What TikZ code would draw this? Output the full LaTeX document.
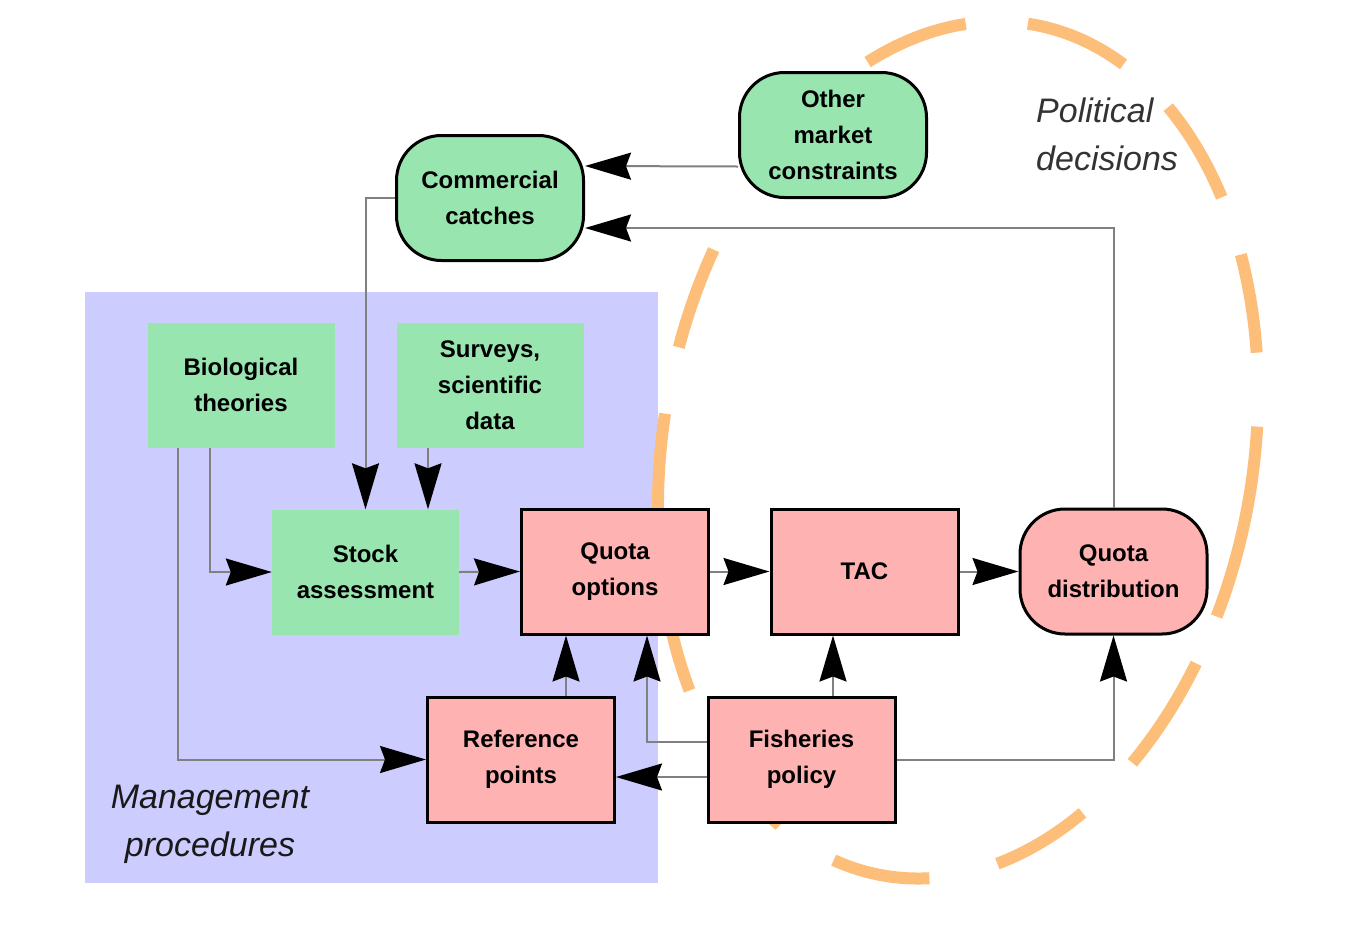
\documentclass[tikz,border=0pt]{standalone}
\usepackage{fontspec}
\setmainfont{Liberation Sans}
\usetikzlibrary{arrows.meta}
\definecolor{boxgreen}{RGB}{153,229,176}
\definecolor{boxpink}{RGB}{255,178,178}
\definecolor{mgmtpurple}{RGB}{204,204,255}
\definecolor{polorange}{RGB}{253,190,122}
\definecolor{linegray}{RGB}{128,128,128}
\definecolor{labelgray}{RGB}{51,51,51}
\begin{document}
\begin{tikzpicture}[x=1pt,y=-1pt,
  conn/.style={draw=linegray, line width=2pt, -{Stealth[length=46pt,width=27pt,inset=5pt,black]}},
  base/.style={minimum width=187pt, minimum height=125pt, inner sep=0pt, align=center,
    font=\fontsize{24pt}{36pt}\selectfont\bfseries, text=black},
  greenbox/.style={base, fill=boxgreen},
  greenround/.style={greenbox, draw=black, line width=3pt, rounded corners=45pt},
  pinkbox/.style={base, fill=boxpink, draw=black, line width=3pt},
  pinkround/.style={pinkbox, rounded corners=45pt},
  arealabel/.style={font=\fontsize{34pt}{48pt}\selectfont\itshape, inner sep=0pt},
  poldash/.style={draw=polorange, line width=12pt},
]
\useasboundingbox (0,0) rectangle (1362,938);
\fill[white] (0,0) rectangle (1362,938);

% Management procedures area
\fill[mgmtpurple] (85,292) rectangle (658,883);

% Political decisions dashed ellipse (individual dashes)
\begin{scope}[shift={(958,450)}, rotate=-10]
  \foreach \s/\e in {-10/16, 23/40, 51/68, 81/100, 112/129, 139/157, 164/178,
                     187/201, 212/229, 238/257, 269/289, 300/317, 326/340}
    \draw[poldash] (\s:295 and 432) arc[start angle=\s, end angle=\e, x radius=295, y radius=432];
\end{scope}

% nodes
\node[greenround] (cc) at (490,198) {Commercial\\catches};
\node[greenround] (om) at (833,135) {Other\\market\\constraints};
\node[greenbox] (bio) at (241,385) {Biological\\theories};
\node[greenbox] (surv) at (490,385) {Surveys,\\scientific\\data};
\node[greenbox] (sa) at (365.5,572) {Stock\\assessment};
\node[pinkbox] (qo) at (615,571.5) {Quota\\options};
\node[pinkbox] (tac) at (864.5,571.5) {TAC};
\node[pinkround] (qd) at (1113.5,571.5) {Quota\\distribution};
\node[pinkbox] (rp) at (521,759.5) {Reference\\points};
\node[pinkbox] (fp) at (801.5,759.5) {Fisheries\\policy};

% labels
\node[arealabel, text=black!90, align=center] (mp) at (210,824) {Management\\procedures};
\node[arealabel, text=labelgray, align=left, anchor=west] (pd) at (1036,134) {Political\\decisions};

% connectors
\coordinate (rpq) at ([xshift=45pt]rp.north);
\draw[conn] ([yshift=-31.5pt]om.west) -- ([yshift=32pt]cc.east);
\draw[conn] (qd.north) |- ([yshift=-30pt]cc.east);
\draw[conn] (cc.west) -| (sa.north);
\draw[conn] ([xshift=-62pt]surv.south) -- ([xshift=62.5pt]sa.north);
\draw[conn] ([xshift=-31pt]bio.south) |- (sa.west);
\draw[conn] ([xshift=-63pt]bio.south) |- (rp.west);
\draw[conn] (sa.east) -- (qo.west);
\draw[conn] (qo.east) -- (tac.west);
\draw[conn] (tac.east) -- (qd.west);
\draw[conn] (rpq) -- (rpq |- qo.south);
\draw[conn] ([yshift=17.5pt]fp.west) -| ([xshift=32pt]qo.south);
\draw[conn] ([yshift=-17.5pt]fp.west) -- ([yshift=-17.5pt]rp.east);
\draw[conn] ([xshift=31.5pt]fp.north) -- ([xshift=-31.5pt]tac.south);
\draw[conn] (fp.east) -| (qd.south);
\end{tikzpicture}
\end{document}
